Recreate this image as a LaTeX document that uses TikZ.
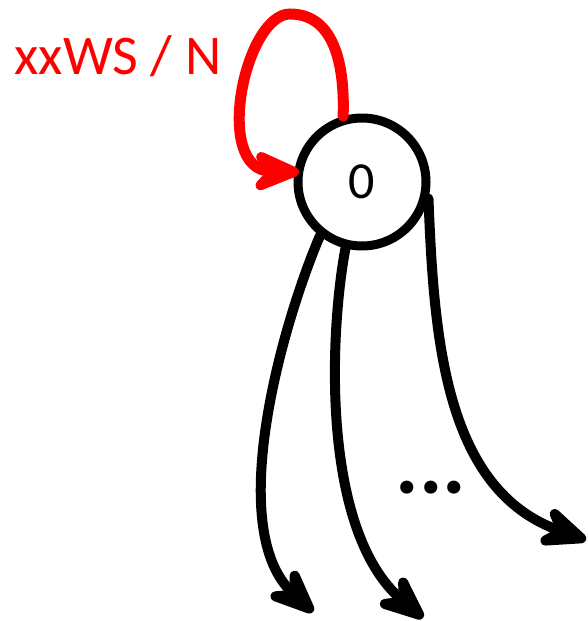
\documentclass[tikz,border=0pt]{standalone}
\usepackage{fontspec}
\setmainfont{Carlito}
\usetikzlibrary{arrows.meta}
\definecolor{loopred}{RGB}{255,0,0}
\tikzset{
  state/.style={circle, draw=black, line width=9pt, minimum size=128pt, inner sep=0pt,
    font=\fontsize{52}{56}\selectfont},
  edge/.style={line width=10pt, line cap=round, draw=black,
    -{Stealth[length=64pt, width=54pt, inset=24pt, round]}},
  selfloop/.style={line width=11pt, line cap=round, draw=loopred,
    -{Stealth[length=64pt, width=54pt, inset=24pt, round]}},
  looplabel/.style={text=loopred, font=\fontsize{56}{62}\selectfont, inner sep=0pt, anchor=base},
  dots/.style={font=\fontsize{88}{92}\selectfont\bfseries, inner sep=0pt, anchor=base}
}
\begin{document}
\begin{tikzpicture}[x=1pt, y=-1pt]
  \useasboundingbox (0,0) rectangle (588,621);
  % state
  \node[state] (s0) at (362,182) {0};
  % outgoing transitions
  \coordinate (t1) at (313,612);
  \coordinate (t2) at (423,618);
  \coordinate (t3) at (586,540);
  \draw[edge] (s0.232) .. controls (280,330) and (225,530) .. (t1);
  \draw[edge] (s0.256) .. controls (330,330) and (320,530) .. (t2);
  \draw[edge] (s0.346) .. controls (434,340) and (445,490) .. (t3);
  % self loop with its label
  \coordinate (top) at (290,14);
  \coordinate (hit) at (299,172);
  \draw[selfloop] (s0.106) .. controls (345,60) and (332,14) .. (top)
                  .. controls (245,14) and (212,170) .. (hit);
  \node[looplabel] (lbl) at (118,74) {xxWS / N};
  \node[dots] (more) at (431,493) {...};
\end{tikzpicture}
\end{document}
